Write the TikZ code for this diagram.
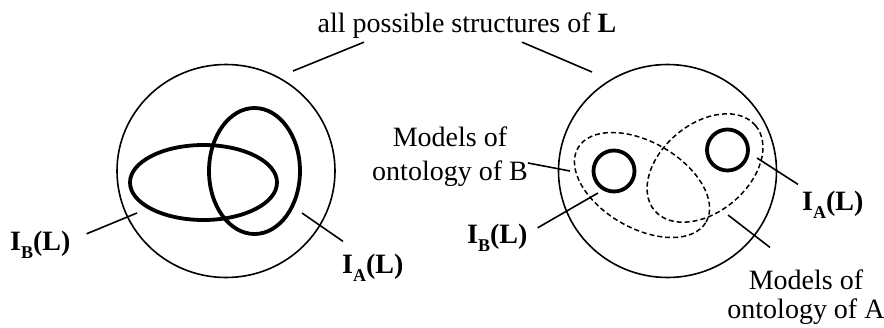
\documentclass[tikz,border=0pt]{standalone}
\usepackage{fontspec}
\setmainfont{Liberation Serif}
\usetikzlibrary{shapes.geometric}
\tikzstyle{world} = [ellipse, draw, line width=1.6pt, minimum width=218pt,
  minimum height=213pt, inner sep=0pt]
\tikzstyle{interp} = [draw, line width=3.8pt, inner sep=0pt]
\tikzstyle{models} = [ellipse, draw, line width=1.5pt, dash pattern=on 5pt off 3pt, inner sep=0pt]
\tikzstyle{lead} = [line width=1.6pt]
\tikzstyle{lbl} = [inner sep=0pt, font=\fontsize{28}{34}\selectfont]
\newcommand{\IofL}[1]{\textbf{I\raisebox{-8pt}{\fontsize{18}{18}\selectfont #1}(L)}}

\begin{document}
\begin{tikzpicture}[x=1pt, y=-1pt]
  \useasboundingbox (0,0) rectangle (884,327);
  \node[world] (lw) at (226,171) {};
  \node[world] (rw) at (667.5,171) {};
  \node[interp, ellipse, minimum width=147pt, minimum height=75pt] (ibl) at (203.5,182.5) {};
  \node[interp, ellipse, minimum width=91pt, minimum height=126pt] (ial) at (254.5,171) {};
  \node[models, minimum width=148pt, minimum height=86pt, rotate=-30] (mb) at (642,185) {};
  \node[models, minimum width=132pt, minimum height=88pt, rotate=40] (ma) at (705,168) {};
  \node[interp, circle, minimum size=41pt] (ibr) at (614,171) {};
  \node[interp, circle, minimum size=41pt] (iar) at (727.5,150) {};

  \node[lbl, anchor=base] (all) at (467,32) {all possible structures of \textbf{L}};
  \node[lbl, align=center] (modb) at (450,156.5) {Models of\\ontology of B};
  \node[lbl, align=center, font=\fontsize{28}{29}\selectfont] (moda) at (806,297) {Models of\\ontology of A};
  \node[lbl, anchor=base west] (tbl) at (10,250) {\IofL{B}};
  \node[lbl, anchor=base west] (tal) at (342,273) {\IofL{A}};
  \node[lbl, anchor=base west] (tbr) at (467,243) {\IofL{B}};
  \node[lbl, anchor=base west] (tar) at (802,210) {\IofL{A}};

  \coordinate (pl) at (293,71);
  \coordinate (pr) at (592,72);
  \coordinate (pbl) at (137,213);
  \coordinate (pal) at (302,213);
  \coordinate (pbr) at (598,193);
  \coordinate (par) at (757,158);
  \coordinate (pmb) at (570,171);
  \coordinate (pma) at (728,215);

  \draw[lead] ([shift={(-103,4)}]all.south) -- (pl);
  \draw[lead] ([shift={(55,4)}]all.south) -- (pr);
  \draw[lead] ([shift={(16,-10.5)}]tbl.east) -- (pbl);
  \draw[lead] ([shift={(1,-12)}]tal.north west) -- (pal);
  \draw[lead] ([shift={(10,-9.5)}]tbr.east) -- (pbr);
  \draw[lead] ([shift={(-4,-6)}]tar.north west) -- (par);
  \draw[lead] ([shift={(0,6.5)}]modb.east) -- (pmb);
  \draw[lead] ([shift={(-36,-22)}]moda.north) -- (pma);
\end{tikzpicture}
\end{document}
